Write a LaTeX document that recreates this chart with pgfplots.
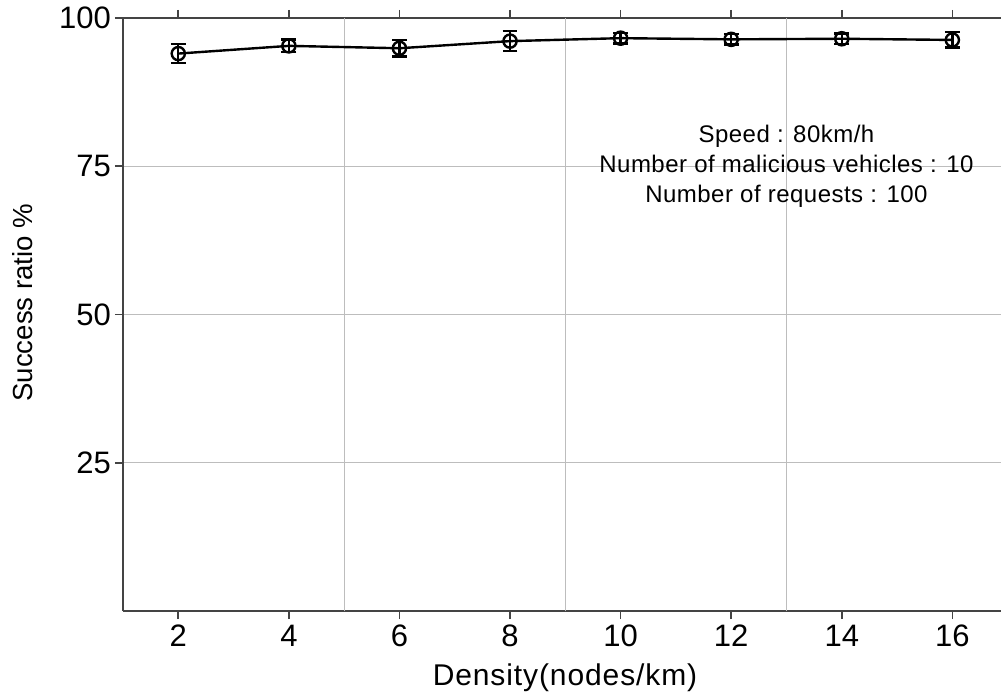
\documentclass[border=0pt]{standalone}
\usepackage{fontspec}
\setmainfont{Liberation Sans}
\newfontfamily\lsfont[LetterSpace=3]{Liberation Sans}
\newfontfamily\annfont[LetterSpace=2]{Liberation Sans}
\usepackage{pgfplots}
\pgfplotsset{compat=1.18}
\definecolor{spine}{HTML}{444444}
\definecolor{gridc}{HTML}{BDBDBD}
\begin{document}
\begin{tikzpicture}
\begin{axis}[
  scale only axis,
  width=439pt, height=296.5pt,
  xmin=1, xmax=16.88,
  ymin=0, ymax=100,
  axis x line*=box,
  axis y line*=left,
  axis line style={spine, line width=0.9pt},
  tick align=outside,
  major tick length=4pt,
  tick style={spine, line width=0.8pt},
  xtick={2,4,...,16},
  ytick={25,50,75,100},
  ymajorgrids=true,
  grid style={gridc, line width=0.6pt},
  extra x ticks={5,9,13},
  extra x tick labels={},
  extra x tick style={grid=major, major tick length=0pt},
  /pgf/number format/assume math mode=true,
  ticklabel style={font=\fontsize{15.5}{17}\selectfont},
  xticklabel style={yshift=0.5pt},
  yticklabel style={xshift=1.5pt},
  xlabel={\lsfont Density(nodes/km)},
  ylabel={Success ratio \%},
  xlabel style={font=\fontsize{15}{17}\selectfont, at={(axis description cs:0.5034,-0.1248)}, anchor=base},
  ylabel style={font=\fontsize{13.8}{16}\selectfont, at={(axis description cs:-0.1036,0.52)}, anchor=base},
  clip=false,
]
\addplot[black, line width=1.2pt, mark=o, mark size=3.3pt,
  mark options={line width=1.2pt},
  error bars/.cd, y dir=both, y explicit,
  error bar style={line width=1.2pt},
  error mark options={rotate=90, mark size=3.7pt, line width=1.2pt}]
  coordinates {
  (2,94.0) +- (0,1.6)
  (4,95.3) +- (0,1.05)
  (6,94.9) +- (0,1.4)
  (8,96.1) +- (0,1.7)
  (10,96.6) +- (0,0.9)
  (12,96.4) +- (0,0.9)
  (14,96.5) +- (0,0.9)
  (16,96.3) +- (0,1.3)
  };
\node[align=center, font=\annfont\fontsize{12}{15}\selectfont] at (axis cs:13,75) {Speed : 80km/h\\Number of malicious vehicles : 10\\Number of requests : 100};
\coordinate (sw) at (rel axis cs:0,0);
\coordinate (ne) at (rel axis cs:1,1);
\end{axis}
\pgfresetboundingbox
\path[use as bounding box] ([xshift=-61.5pt,yshift=-40.5pt]sw) rectangle ([yshift=9pt]ne);
\end{tikzpicture}
\end{document}
